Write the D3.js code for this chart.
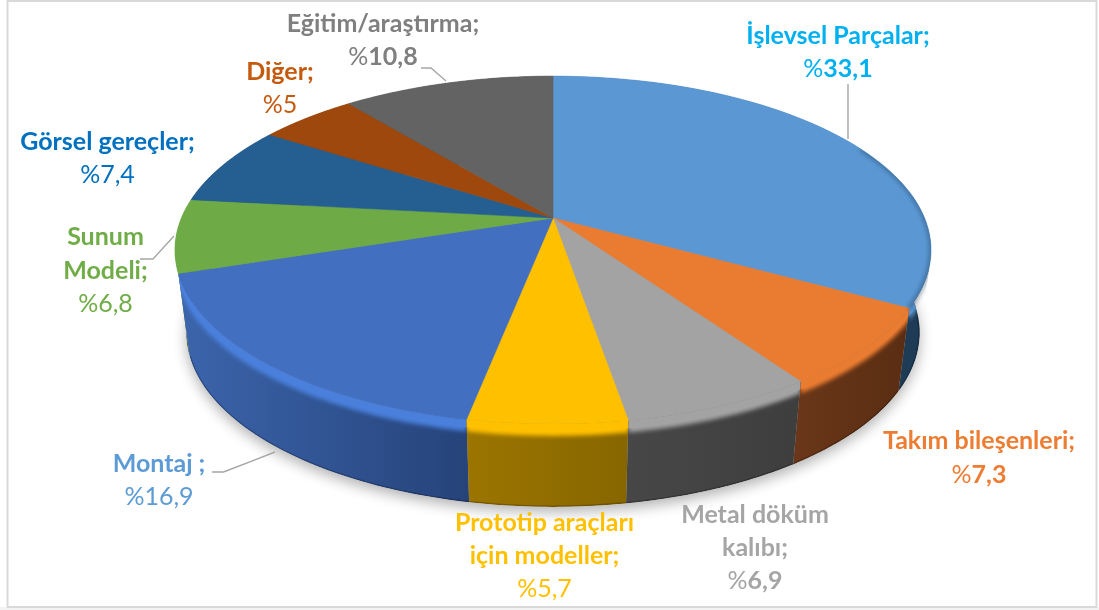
<!DOCTYPE html>
<html lang="tr">
<head>
<meta charset="utf-8">
<script src="https://cdn.jsdelivr.net/npm/d3@7"></script>
<style>
html,body{margin:0;padding:0;background:#fff;overflow:hidden}
text{font-family:Lato,"Open Sans",sans-serif;font-size:25px;text-anchor:middle}
</style>
</head>
<body>
<script>
// ---- data ----
const categories = ["İşlevsel Parçalar","Takım bileşenleri","Metal döküm kalıbı","Prototip araçları için modeller","Montaj","Sunum Modeli","Görsel gereçler","Diğer","Eğitim/araştırma"];
const values = [33.1,7.3,6.9,5.7,16.9,6.8,7.4,5,10.8];
const valueLabels = ["33,1","7,3","6,9","5,7","16,9","6,8","7,4","5","10,8"];
const boldValue = [true,true,true,false,false,false,false,false,true];
// ---- styles ----
const topColors = ["#5B97D3","#E97C30","#A3A3A3","#FFC000","#426FBF","#6EAB46","#255E91","#9E480E","#636363"];
const bandColors = ["#5B97D3","#E97C30","#A3A3A3","#FFC000","#4A80DC","#78BC4C","#2C6EA8","#9E480E","#636363"];
const wallLeft = ["#2A4F70","#693619","#474747","#9C7500","#3C65AC","#4A7A30","#1C4468","#6F320A","#444444"];
const wallRight = ["#1E3A54","#5A2D12","#3E3E3E","#876600","#26437A","#4A7A30","#1C4468","#6F320A","#444444"];
const labelColors = ["#00B0F0","#ED7D31","#A5A5A5","#FFC000","#5B9BD5","#70AD47","#0070C0","#C55A11","#7F7F7F"];
// ---- layout ----
const labelLines = [["İşlevsel Parçalar;"],["Takım bileşenleri;"],["Metal döküm","kalıbı;"],["Prototip araçları","için modeller;"],["Montaj ;"],["Sunum","Modeli;"],["Görsel gereçler;"],["Diğer;"],["Eğitim/araştırma;"]];
const labelX = [838,979,755,544.5,159,105.5,107.5,280,383];
const labelY = [44,449,523,531,472,245,150,80,32];
const lineGap = [33,34,33,33,33,33.5,33,33,33];
const leaders = [
  [[848,84],[848,139]],
  [[140,259],[153,259],[174,236]],
  [[212,472],[223.5,472],[275,452]],
  [[421,68],[431,68],[446,81]]
];

const W = 1099, H = 610;
const svg = d3.select("body").append("svg").attr("width",W).attr("height",H).style("display","block");
const defs = svg.append("defs");
defs.append("filter").attr("id","blurS").attr("x","-10%").attr("y","-10%").attr("width","120%").attr("height","120%")
  .append("feGaussianBlur").attr("stdDeviation",7);
defs.append("filter").attr("id","blurB").attr("x","-10%").attr("y","-30%").attr("width","120%").attr("height","160%")
  .append("feGaussianBlur").attr("stdDeviation",2);
defs.append("filter").attr("id","blurT").attr("x","-5%").attr("y","-5%").attr("width","110%").attr("height","110%")
  .append("feGaussianBlur").attr("stdDeviation",0.4);

// outer frame
svg.append("rect").attr("x",0).attr("y",607).attr("width",W).attr("height",3).attr("fill","#f3f3f3");
svg.append("rect").attr("x",7.5).attr("y",1).attr("width",1089).attr("height",606)
  .attr("fill","#fff").attr("stroke","#d9d9d9").attr("stroke-width",2);

// perspective projection of the disc
const apexX = 553, apexY = 218, A = 371.6, B = 168, k = 0.184;
const depth = 83, bottomScale = 0.97, bevel = 12;
const project = a => {
  const u = Math.sin(a), v = -Math.cos(a), w = 1 - k*v;
  return [apexX + A*u/w, apexY + B*v/w];
};
const lower = (p,dy) => [apexX + (p[0]-apexX)*bottomScale, p[1]+dy];
const offset = (p,dy) => [p[0], p[1]+dy];

const arcs = d3.pie().sort(null).value(d=>d).startAngle(0).endAngle(2*Math.PI)(values);
const rim = d => d3.range(0,61).map(i => project(d.startAngle + (d.endAngle-d.startAngle)*i/60));
const line = d3.line();
const closed = pts => line(pts)+"Z";

// drop shadow
const full = d3.range(0,241).map(i => project(i/240*2*Math.PI));
svg.append("path").attr("d",closed(full.map(p => lower(p,depth+5))))
  .attr("fill","#000").attr("opacity",0.3).attr("filter","url(#blurS)");

// silhouette of the whole solid, used as one clip
const hull = d3.polygonHull(full.concat(full.map(p => lower(p,depth))));
defs.append("clipPath").attr("id","solid").append("path").attr("d",closed(hull));

// walls, back to front
const order = [0,8,7,6,5,1,4,2,3];
const solid = svg.append("g").attr("clip-path","url(#solid)");
order.forEach(i => {
  const d = arcs[i], r = rim(d);
  const x0 = d3.min(r,p=>p[0]), x1 = d3.max(r,p=>p[0]);
  const gid = "wall"+i;
  const g = defs.append("linearGradient").attr("id",gid).attr("gradientUnits","userSpaceOnUse")
    .attr("x1",x0).attr("x2",x1).attr("y1",0).attr("y2",0);
  g.append("stop").attr("offset",0).attr("stop-color",wallLeft[i]);
  g.append("stop").attr("offset",1).attr("stop-color",wallRight[i]);
  const bottom = r.map(p=>lower(p,depth));
  const wallPath = closed(r.concat(bottom.slice().reverse()));
  defs.append("clipPath").attr("id","wc"+i).append("path").attr("d",wallPath);
  const sg = solid.append("g");
  sg.append("path").attr("d",wallPath).attr("fill",`url(#${gid})`);
  const inner = sg.append("g").attr("clip-path",`url(#wc${i})`);
  // darkened bottom edge
  inner.append("path").attr("d",line(bottom)).attr("fill","none").attr("stroke","#000").attr("stroke-opacity",0.22).attr("stroke-width",3);
  // bevel: soft lower edge plus a solid part that meets the top surface
  inner.append("path").attr("d",closed(r.concat(r.map(p=>offset(p,bevel)).reverse())))
    .attr("fill",bandColors[i]).attr("filter","url(#blurB)");
  inner.append("path").attr("d",closed(r.concat(r.map(p=>offset(p,bevel-4)).reverse())))
    .attr("fill",bandColors[i]);
});

// top surface
svg.append("g").selectAll("path").data(arcs).join("path")
  .attr("d",d => closed([[apexX,apexY]].concat(rim(d))))
  .attr("fill",(d,i)=>topColors[i])
  .attr("stroke",(d,i)=>topColors[i]).attr("stroke-width",0.6);

// dark fuzz on the far-right rim
const fuzz = rim(arcs[0]).slice(32);
svg.append("g").attr("clip-path","url(#solid)").append("path").attr("d",line(fuzz))
  .attr("fill","none").attr("stroke","#1E3A54").attr("stroke-width",3).attr("stroke-opacity",0.6).attr("filter","url(#blurB)");

// leaders
svg.append("g").selectAll("path").data(leaders).join("path")
  .attr("d",line).attr("fill","none").attr("stroke","#a6a6a6").attr("stroke-width",1.4);

// labels
const labels = svg.append("g").attr("filter","url(#blurT)");
categories.forEach((c,i) => {
  const t = labels.append("g").attr("fill",labelColors[i]);
  labelLines[i].forEach((l,j) => {
    t.append("text").attr("x",labelX[i]).attr("y",labelY[i]+j*lineGap[i]).attr("font-weight",700).text(l);
  });
  const v = t.append("text").attr("x",labelX[i]).attr("y",labelY[i]+labelLines[i].length*lineGap[i]);
  v.append("tspan").attr("font-weight",400).text("%");
  v.append("tspan").attr("font-weight",boldValue[i]?700:400).text(valueLabels[i]);
});
</script>
</body>
</html>
